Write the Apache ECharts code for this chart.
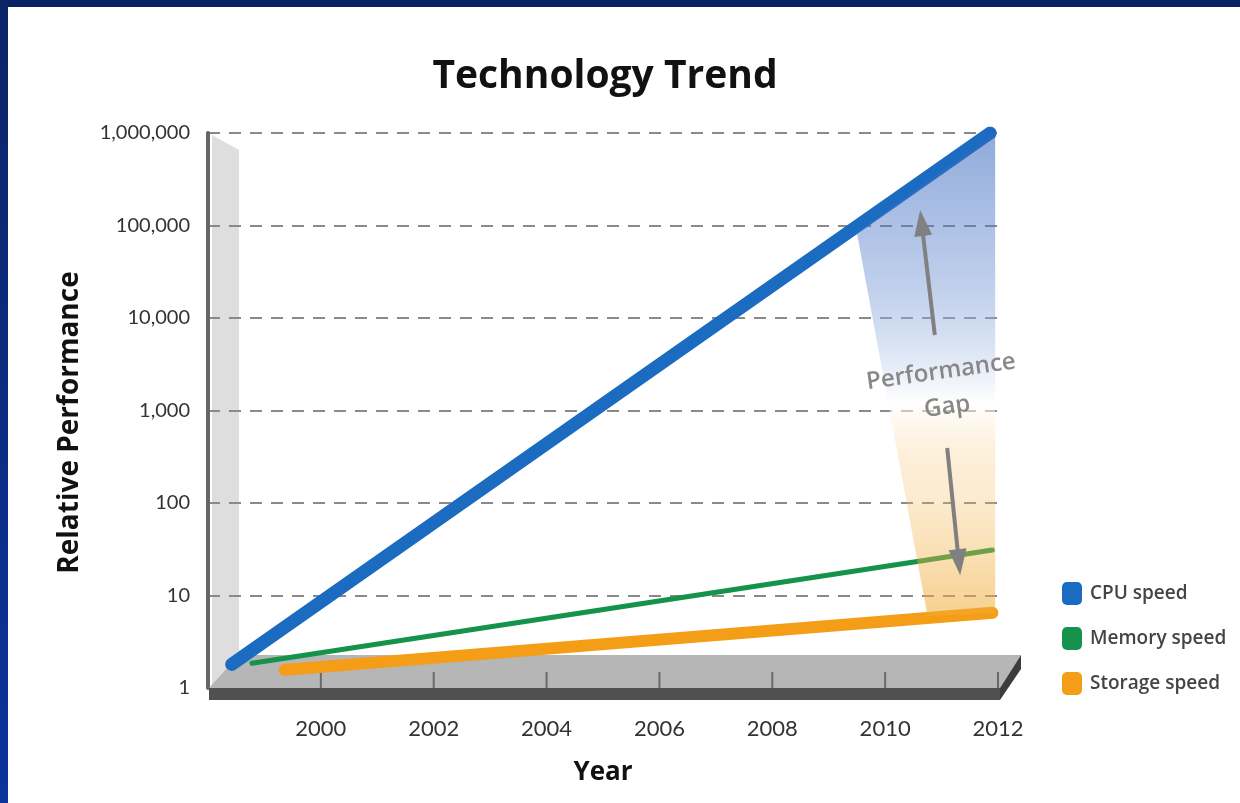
<!DOCTYPE html>
<html><head><meta charset="utf-8">
<script src="https://cdn.jsdelivr.net/npm/echarts@6/dist/echarts.min.js"></script>
<style>
html,body{margin:0;padding:0;background:#fff;overflow:hidden;}
#c{position:absolute;left:0;top:0;width:1240px;height:803px;}
#ft{position:absolute;left:0;top:0;width:1240px;height:7px;background:#0b2262;}
#fl{position:absolute;left:0;top:0;width:8px;height:803px;background:linear-gradient(#0b2466,#0c339c);}
</style></head>
<body><div id="c"></div><div id="ft"></div><div id="fl"></div>
<script>
// ---- data ----
const seriesNames = ['CPU speed', 'Memory speed', 'Storage speed'];
const cpuYears = [1998.42, 2011.86];
const cpuValues = [1.8, 1000000];
const memYears = [1998.78, 2011.9];
const memValues = [1.85, 31];
const stoYears = [1999.36, 2011.9];
const stoValues = [1.57, 6.5];
const xTickYears = [2000, 2002, 2004, 2006, 2008, 2010, 2012];
const yTickValues = [1, 10, 100, 1000, 10000, 100000, 1000000];
// performance gap region (year, value)
const gapYears = [2009.5, 2011.95, 2011.95, 2010.75];
const gapValues = [83000, 1000000, 6.4, 6.0];
// arrows: [fromYear, fromValue, toYear, toValue]
const arrowRows = [[2010.88, 6550, 2010.62, 147000], [2011.10, 393, 2011.33, 16.6]];
// gap label lines: [year, value, text]
const gapLabels = [[2010.99, 2610, 'Performance'], [2011.10, 1090, 'Gap']];

const colors = {cpu: '#1b6bc0', mem: '#14944a', sto: '#f49d16'};
const toPairs = (xs, ys) => xs.map((x, i) => [x, ys[i]]);

const chart = echarts.init(document.getElementById('c'), null, {renderer: 'canvas'});
const FONT = 'Lato';
const BFONT = 'Open Sans';
const option = {
  backgroundColor: '#ffffff',
  animation: false,
  title: {
    text: 'Technology Trend', left: 600, top: 52, textAlign: 'center',
    textStyle: {fontFamily: BFONT, fontWeight: 'bold', fontSize: 39, color: '#111'}
  },
  legend: {
    data: seriesNames, orient: 'vertical', left: 1057, top: 577,
    itemWidth: 20, itemHeight: 23, itemGap: 22, icon: 'roundRect', selectedMode: false,
    textStyle: {fontFamily: BFONT, fontWeight: 600, fontSize: 19, color: '#444', padding: [0, 0, 0, 3]}
  },
  grid: {left: 208, right: 242, top: 133, bottom: 115},
  xAxis: {
    type: 'value', min: 1998, max: 2012, interval: 2,
    name: 'Year', nameLocation: 'middle', nameGap: 72,
    nameTextStyle: {fontFamily: BFONT, fontWeight: 'bold', fontSize: 26, color: '#111'},
    axisLine: {show: false}, axisTick: {show: false}, splitLine: {show: false},
    axisLabel: {
      margin: 30, fontFamily: FONT, fontSize: 22, color: '#333',
      formatter: v => xTickYears.indexOf(v) >= 0 ? String(v) : ''
    }
  },
  yAxis: {
    type: 'log', logBase: 10, min: 1, max: 1000000,
    name: 'Relative Performance', nameLocation: 'middle', nameGap: 124,
    nameTextStyle: {fontFamily: BFONT, fontWeight: 'bold', fontSize: 28, color: '#111', padding: [0, 24, 0, 0]},
    axisLine: {show: true, lineStyle: {color: '#666', width: 4}},
    axisTick: {show: false},
    axisLabel: {
      margin: 18, fontFamily: FONT, fontSize: 20, color: '#333',
      formatter: v => Math.round(v).toLocaleString('en-US')
    },
    splitLine: {show: true, lineStyle: {color: '#8a8a8a', width: 2, type: [12, 9]}}
  },
  series: [
    {name: 'CPU speed', type: 'line', data: toPairs(cpuYears, cpuValues), showSymbol: false, z: 4,
      color: colors.cpu, lineStyle: {color: colors.cpu, width: 13, cap: 'round'}},
    {name: 'Memory speed', type: 'line', data: toPairs(memYears, memValues), showSymbol: false, z: 4,
      color: colors.mem, lineStyle: {color: colors.mem, width: 5, cap: 'round'}},
    {name: 'Storage speed', type: 'line', data: toPairs(stoYears, stoValues), showSymbol: false, z: 4,
      color: colors.sto, lineStyle: {color: colors.sto, width: 12, cap: 'round'}},
    {type: 'custom', z: 5, silent: true, data: [[2011, 1000]], clip: false,
      renderItem: (params, api) => {
        const pts = gapYears.map((x, i) => api.coord([x, gapValues[i]]));
        return {type: 'polygon', shape: {points: pts}, style: {
          fill: new echarts.graphic.LinearGradient(0, 0, 0, 1, [
            {offset: 0, color: 'rgba(50,100,190,0.55)'},
            {offset: 0.3, color: 'rgba(90,130,205,0.4)'},
            {offset: 0.56, color: 'rgba(255,255,255,0.55)'},
            {offset: 0.75, color: 'rgba(245,185,90,0.28)'},
            {offset: 1, color: 'rgba(240,170,50,0.55)'}
          ])}};
      }},
    {type: 'custom', z: 6, silent: true, data: arrowRows, clip: false, encode: {x: [0, 2], y: [1, 3]},
      renderItem: (params, api) => {
        const a = api.coord([api.value(0), api.value(1)]);
        const b = api.coord([api.value(2), api.value(3)]);
        const dx = b[0] - a[0], dy = b[1] - a[1];
        const L = Math.sqrt(dx * dx + dy * dy), ux = dx / L, uy = dy / L;
        const hl = 26, hw = 9;
        const base = [b[0] - ux * hl, b[1] - uy * hl];
        return {type: 'group', children: [
          {type: 'line', shape: {x1: a[0], y1: a[1], x2: base[0] + ux * 2, y2: base[1] + uy * 2},
            style: {stroke: '#808080', lineWidth: 4}},
          {type: 'polygon', shape: {points: [b, [base[0] - uy * hw, base[1] + ux * hw], [base[0] + uy * hw, base[1] - ux * hw]]},
            style: {fill: '#808080'}}
        ]};
      }},
    {type: 'custom', z: 6, silent: true, data: gapLabels.map(r => [r[0], r[1]]), clip: false,
      renderItem: (params, api) => {
        const p = api.coord([api.value(0), api.value(1)]);
        return {type: 'text', x: p[0], y: p[1], rotation: 0.14,
          style: {text: gapLabels[params.dataIndex][2], fill: '#888', font: '600 24px "Open Sans"',
            textAlign: 'center', textVerticalAlign: 'middle'}};
      }}
  ]
};
chart.setOption(option);

// 3D floor and back wall decorations, positioned from the axes
const p0 = chart.convertToPixel({gridIndex: 0}, [1998, 1]);
const p1 = chart.convertToPixel({gridIndex: 0}, [2012, 1]);
const pt = chart.convertToPixel({gridIndex: 0}, [1998, 1000000]);
const DX = 30, DY = -33;
const x0 = p0[0] + 1, y0 = p0[1], x1 = p1[0] + 2;
const g = [
  {type: 'polygon', z: -1, shape: {points: [[x0 + 3, pt[1] + 2], [x0 + DX, pt[1] + 17], [x0 + DX, y0 + DY], [x0 + 3, y0]]},
    style: {fill: '#dedede'}},
  {type: 'polygon', z: 1, shape: {points: [[x0, y0], [x1, y0], [x1 + 21, y0 + DY], [x0 + DX, y0 + DY]]},
    style: {fill: '#b6b6b6'}},
  {type: 'rect', z: 1, shape: {x: x0, y: y0, width: x1 - x0, height: 12}, style: {fill: '#505050'}},
  {type: 'polygon', z: 1, shape: {points: [[x1, y0], [x1 + 21, y0 + DY], [x1 + 21, y0 + DY + 14], [x1, y0 + 12]]},
    style: {fill: '#3c3c3c'}}
];
xTickYears.forEach(yr => {
  const p = chart.convertToPixel({gridIndex: 0}, [yr, 1]);
  g.push({type: 'line', z: 1, shape: {x1: p[0], y1: y0, x2: p[0], y2: y0 - 16}, style: {stroke: '#6a6a6a', lineWidth: 2}});
});
chart.setOption({graphic: g});
</script>
</body></html>
